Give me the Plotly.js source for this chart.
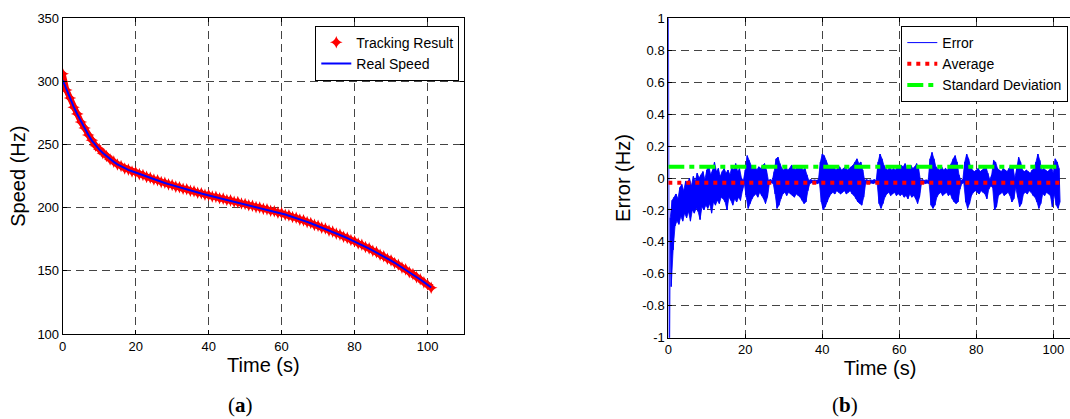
<!DOCTYPE html>
<html>
<head>
<meta charset="utf-8">
<script src="https://cdn.plot.ly/plotly-3.0.1.min.js"></script>
<style>
  html, body { margin: 0; padding: 0; overflow: hidden; background: #fff; }
  #chart { width: 1100px; height: 419px; }
</style>
</head>
<body>
<div id="chart"></div>
<script>
// ---- (a) speed tracking, one sample per second (Hz) ----
const speedStep = 1;
const realSpeed = [
  301.0, 293.5, 286.5, 280.0, 274.0, 268.2, 262.8, 257.8, 253.2, 249.4,
  246.2, 243.4, 240.8, 238.4, 236.3, 234.4, 232.8, 231.3, 230.0, 228.9,
  227.8, 226.8, 225.7, 224.6, 223.5, 222.5, 221.5, 220.5, 219.6, 218.7,
  217.8, 216.9, 216.0, 215.2, 214.4, 213.6, 212.8, 212.0, 211.2, 210.5,
  209.8, 209.1, 208.4, 207.7, 207.0, 206.3, 205.6, 204.9, 204.2, 203.5,
  202.8, 202.1, 201.4, 200.7, 200.0, 199.3, 198.5, 197.8, 197.0, 196.3,
  195.5, 194.6, 193.7, 192.8, 191.8, 190.8, 189.8, 188.8, 187.7, 186.6,
  185.5, 184.4, 183.3, 182.1, 180.9, 179.7, 178.5, 177.2, 175.9, 174.6,
  173.3, 171.9, 170.5, 169.1, 167.6, 166.1, 164.6, 163.0, 161.4, 159.8,
  158.1, 156.4, 154.6, 152.8, 151.0, 149.1, 147.2, 145.2, 143.2, 141.1,
  139.0, 136.8
];
const trackingSpeed = [
  306.0, 293.2, 286.9, 279.6, 274.3, 267.9, 263.1, 257.5, 253.5, 249.1,
  246.4, 243.1, 241.0, 238.2, 236.5, 234.2, 233.0, 231.1, 230.2, 228.7,
  228.0, 226.6, 225.9, 224.4, 223.7, 222.3, 221.7, 220.3, 219.8, 218.5,
  218.0, 216.7, 216.2, 215.0, 214.6, 213.4, 213.0, 211.8, 211.4, 210.3,
  210.0, 208.9, 208.6, 207.5, 207.2, 206.1, 205.8, 204.7, 204.4, 203.3,
  203.0, 201.9, 201.6, 200.5, 200.2, 199.1, 198.7, 197.6, 197.2, 196.1,
  195.7, 194.4, 193.9, 192.6, 192.0, 190.6, 190.0, 188.6, 187.9, 186.4,
  185.7, 184.2, 183.5, 181.9, 181.1, 179.5, 178.7, 177.0, 176.1, 174.4,
  173.5, 171.7, 170.7, 168.9, 167.8, 165.9, 164.8, 162.8, 161.6, 159.6,
  158.3, 156.2, 154.8, 152.6, 151.2, 148.9, 147.4, 145.0, 143.4, 140.9,
  139.2, 136.6
];

// ---- (b) tracking error, upper/lower swing every 0.5 s (Hz) ----
const errStep = 0.5;
const errorHigh = [
   1.50, -0.25, -0.14, -0.12, -0.10, -0.13, -0.06, -0.04, -0.08, -0.02,
  -0.03,  0.00, -0.05,  0.01, -0.02,  0.03,  0.00,  0.02,  0.04, -0.01,
   0.05,  0.08,  0.02,  0.05,  0.10,  0.04,  0.06,  0.01,  0.04,  0.06,
   0.03,  0.05,  0.02,  0.07,  0.05,  0.09,  0.04,  0.06,  0.00, -0.015,
   0.05,  0.14,  0.11,  0.08,  0.06,  0.07,  0.05,  0.07,  0.06,  0.08,
   0.09,  0.05, -0.015, -0.01, -0.015, 0.04,  0.12,  0.13,  0.09,  0.06,
   0.05,  0.07,  0.05,  0.06,  0.08,  0.07,  0.05,  0.08,  0.06,  0.07,
   0.05,  0.06,  0.02, -0.015, -0.01, -0.015, -0.012, -0.015, -0.01, 0.10,
   0.15,  0.14,  0.11,  0.08,  0.07,  0.06,  0.07,  0.05,  0.06,  0.07,
   0.05,  0.06,  0.07,  0.05,  0.06,  0.07,  0.08,  0.10,  0.12,  0.09,
   0.10,  0.05, -0.015, -0.01, -0.015, -0.012, -0.015, -0.01, -0.015, 0.10,
   0.15,  0.12,  0.08,  0.06,  0.05,  0.07,  0.05,  0.06,  0.05,  0.07,
   0.06,  0.08,  0.07,  0.09,  0.06,  0.07,  0.08,  0.06,  0.07,  0.09,
   0.06, -0.015, -0.01, -0.015, -0.012, -0.015, 0.12,  0.16,  0.12,  0.07,
   0.06,  0.05,  0.07,  0.05,  0.06,  0.05,  0.07,  0.09,  0.12,  0.14,
   0.10,  0.02, -0.015, -0.01,  0.10,  0.15,  0.12,  0.07,  0.05,  0.04,
   0.05,  0.06,  0.04,  0.05,  0.06,  0.07,  0.03, -0.01,  0.02,  0.11,
   0.10,  0.06,  0.05,  0.04,  0.06,  0.05,  0.04,  0.06,  0.08,  0.07,
   0.00,  0.06,  0.13,  0.10,  0.05,  0.04,  0.05,  0.04,  0.03,  0.05,
   0.06,  0.10,  0.15,  0.11,  0.05,  0.06,  0.05,  0.04,  0.05,  0.07,
   0.03,  0.12,  0.10,  0.06
];
const errorLow = [
  -1.50, -0.68, -0.45, -0.30, -0.27, -0.29, -0.24, -0.27, -0.22, -0.25,
  -0.21, -0.27, -0.20, -0.22, -0.19, -0.21, -0.26, -0.18, -0.20, -0.17,
  -0.19, -0.16, -0.22, -0.15, -0.17, -0.14, -0.16, -0.12, -0.13, -0.15,
  -0.20, -0.12, -0.14, -0.17, -0.13, -0.15, -0.12, -0.14, -0.08, -0.035,
  -0.12, -0.19, -0.16, -0.13, -0.11, -0.10, -0.12, -0.09, -0.11, -0.13,
  -0.16, -0.12, -0.035, -0.03, -0.035, -0.10, -0.19, -0.17, -0.13, -0.10,
  -0.09, -0.11, -0.09, -0.10, -0.11, -0.12, -0.10, -0.11, -0.12, -0.14,
  -0.16, -0.15, -0.08, -0.035, -0.03, -0.035, -0.032, -0.035, -0.03, -0.15,
  -0.20, -0.18, -0.15, -0.12, -0.10, -0.09, -0.10, -0.08, -0.09, -0.10,
  -0.09, -0.08, -0.10, -0.09, -0.08, -0.10, -0.11, -0.13, -0.15, -0.16,
  -0.17, -0.12, -0.035, -0.03, -0.035, -0.032, -0.035, -0.03, -0.035, -0.16,
  -0.19, -0.16, -0.12, -0.10, -0.09, -0.11, -0.10, -0.09, -0.11, -0.10,
  -0.11, -0.10, -0.12, -0.11, -0.13, -0.10, -0.12, -0.11, -0.13, -0.16,
  -0.12, -0.035, -0.03, -0.035, -0.032, -0.035, -0.17, -0.19, -0.17, -0.12,
  -0.10, -0.09, -0.11, -0.10, -0.09, -0.11, -0.10, -0.13, -0.15, -0.16,
  -0.15, -0.07, -0.035, -0.03, -0.15, -0.19, -0.16, -0.11, -0.09, -0.08,
  -0.09, -0.10, -0.08, -0.09, -0.10, -0.13, -0.07, -0.05, -0.06, -0.20,
  -0.18, -0.11, -0.10, -0.09, -0.11, -0.10, -0.09, -0.11, -0.15, -0.13,
  -0.06, -0.12, -0.18, -0.16, -0.10, -0.09, -0.10, -0.08, -0.09, -0.11,
  -0.12, -0.15, -0.19, -0.16, -0.10, -0.11, -0.09, -0.10, -0.11, -0.18,
  -0.10, -0.17, -0.19, -0.15
];
const errorAverage = -0.03;
const errorStdDev = 0.07;

// ---- axis ticks ----
const timeTicks = [0, 20, 40, 60, 80, 100];
const speedTicks = [100, 150, 200, 250, 300, 350];
const errorTicks = [-1, -0.8, -0.6, -0.4, -0.2, 0, 0.2, 0.4, 0.6, 0.8, 1];
const errorTickText = ['-1', '-0.8', '-0.6', '-0.4', '-0.2', '0', '0.2', '0.4', '0.6', '0.8', '1'];

// ---- build series ----
const speedTime = realSpeed.map((_, i) => i * speedStep);
const hiT = errorHigh.map((_, i) => i * errStep);
const loT = errorLow.map((_, i) => i * errStep + errStep / 2);
const errT = [], errV = [];
errorHigh.forEach((hi, i) => {
  errT.push(hiT[i]); errV.push(hi);
  errT.push(loT[i]); errV.push(errorLow[i]);
});
const errEnd = errT[errT.length - 1];

const W = 1100, H = 419;
const FONT = 'Liberation Sans, Arial, Helvetica, sans-serif';
const BLUE = '#0000ff';
const RED = '#ff0000';

const traces = [
  // body of the densely packed tracking markers
  { x: speedTime, y: trackingSpeed, type: 'scatter', mode: 'lines', showlegend: false,
    line: { color: RED, width: 6 }, xaxis: 'x', yaxis: 'y' },
  { x: speedTime, y: trackingSpeed, name: 'Tracking Result', type: 'scatter', mode: 'markers',
    marker: { symbol: 'star-diamond', size: 9, color: RED, line: { width: 0 } },
    xaxis: 'x', yaxis: 'y', legend: 'legend' },
  { x: speedTime, y: realSpeed, name: 'Real Speed', type: 'scatter', mode: 'lines',
    line: { color: BLUE, width: 2 }, xaxis: 'x', yaxis: 'y', legend: 'legend' },
  // solid body of the oscillating error between its swing extremes (after the start transient)
  { x: hiT.slice(1), y: errorHigh.slice(1), type: 'scatter', mode: 'lines', showlegend: false,
    line: { color: BLUE, width: 0.8, simplify: false }, xaxis: 'x2', yaxis: 'y2' },
  { x: loT.slice(1), y: errorLow.slice(1), type: 'scatter', mode: 'lines', showlegend: false, fill: 'tonexty',
    fillcolor: BLUE, line: { color: BLUE, width: 0.8, simplify: false }, xaxis: 'x2', yaxis: 'y2' },
  { x: errT, y: errV, name: 'Error', type: 'scatter', mode: 'lines',
    line: { color: BLUE, width: 1, simplify: false }, xaxis: 'x2', yaxis: 'y2', legend: 'legend2' },
  { x: [0, errEnd], y: [errorAverage, errorAverage], name: 'Average', type: 'scatter', mode: 'lines',
    line: { color: RED, width: 4, dash: '4px,5px' }, xaxis: 'x2', yaxis: 'y2', legend: 'legend2' },
  { x: [0, errEnd], y: [errorStdDev, errorStdDev], name: 'Standard Deviation', type: 'scatter', mode: 'lines',
    line: { color: '#00ff00', width: 4, dash: '16px,5px,5px,5px' }, xaxis: 'x2', yaxis: 'y2', legend: 'legend2' }
];

const axisBase = {
  showline: true, linecolor: '#000', linewidth: 1, mirror: 'ticks',
  ticks: 'inside', ticklen: 4, tickcolor: '#000', tickwidth: 1,
  showgrid: true, gridcolor: '#444', gridwidth: 1, griddash: '8px,5px',
  zeroline: false, fixedrange: true,
  tickfont: { family: FONT, size: 13, color: '#000' }
};
const titleFont = { family: FONT, size: 20, color: '#000' };
const legendBase = {
  xanchor: 'right', yanchor: 'top', bgcolor: '#fff', bordercolor: '#000', borderwidth: 1,
  font: { family: FONT, size: 14, color: '#000' }, tracegroupgap: 0, traceorder: 'normal'
};

const layout = {
  width: W, height: H,
  margin: { l: 0, r: 0, t: 0, b: 0 },
  paper_bgcolor: '#fff', plot_bgcolor: '#fff',
  showlegend: true,
  xaxis: Object.assign({}, axisBase, {
    domain: [62.7 / W, 464 / W], range: [0, 110], anchor: 'y',
    tickvals: timeTicks,
    title: { text: 'Time (s)', font: titleFont, standoff: 4 }
  }),
  yaxis: Object.assign({}, axisBase, {
    domain: [(H - 334) / H, (H - 18.3) / H], range: [100, 350], anchor: 'x',
    tickvals: speedTicks,
    title: { text: 'Speed (Hz)', font: titleFont, standoff: 6 }
  }),
  xaxis2: Object.assign({}, axisBase, {
    domain: [668.3 / W, 1091.8 / W], range: [0, 110], anchor: 'y2',
    tickvals: timeTicks,
    title: { text: 'Time (s)', font: titleFont, standoff: 4 }
  }),
  yaxis2: Object.assign({}, axisBase, {
    domain: [(H - 337.7) / H, (H - 18.3) / H], range: [-1, 1], anchor: 'x2',
    tickvals: errorTicks, ticktext: errorTickText,
    title: { text: 'Error (Hz)', font: titleFont, standoff: 6 }
  }),
  legend: Object.assign({}, legendBase, { x: 459.3 / W, y: (H - 25.7) / H }),
  legend2: Object.assign({}, legendBase, { x: 1068.3 / W, y: (H - 26) / H }),
  annotations: [
    { text: '(<b>a</b>)', x: 240 / W, y: (H - 405) / H, xref: 'paper', yref: 'paper',
      xanchor: 'center', yanchor: 'middle', showarrow: false,
      font: { family: 'Liberation Serif, Times New Roman, serif', size: 21, color: '#000' } },
    { text: '(<b>b</b>)', x: 845 / W, y: (H - 405) / H, xref: 'paper', yref: 'paper',
      xanchor: 'center', yanchor: 'middle', showarrow: false,
      font: { family: 'Liberation Serif, Times New Roman, serif', size: 21, color: '#000' } }
  ]
};

Plotly.newPlot('chart', traces, layout, { displayModeBar: false, staticPlot: true });
</script>
</body>
</html>
